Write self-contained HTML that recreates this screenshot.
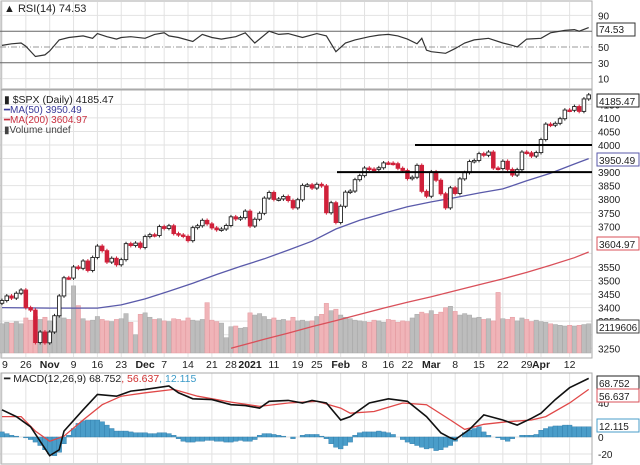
<!DOCTYPE html>
<html><head><meta charset="utf-8"><style>
body{margin:0;background:#fff;width:640px;height:465px;overflow:hidden}
svg{display:block;font-family:"Liberation Sans",sans-serif}
</style></head><body>
<svg id="chart" width="640" height="465" viewBox="0 0 640 465" xmlns="http://www.w3.org/2000/svg"></svg>
<script>
const dateLabels=["9","26","Nov","9","16","23","Dec","7","14","21","28","2021","11","19","25","Feb","8","16","22","Mar","8","15","22","29","Apr","12"];
const dateIdx=[0,5,10,15,20,25,30,34,39,44,48,52,57,62,66,71,76,81,85,90,95,100,105,110,113,119];
const boldLabels=["Nov","Dec","2021","Feb","Mar","Apr"];
const closes=[3426,3443,3435,3453,3465,3400,3391,3271,3310,3270,
3310,3370,3443,3510,3509,3550,3545,3572,3537,3585,3627,3610,3568,3582,3558,3577,3636,3629,3638,3622,
3662,3669,3666,3699,3692,3702,3673,3668,3663,3647,3695,3702,3722,3709,3694,3687,3690,3703,3735,3727,3732,3756,
3701,3726,3748,3804,3825,3799,3801,3810,3795,3768,3798,3851,3853,3841,3855,3849,3750,3787,3714,
3774,3826,3830,3872,3887,3915,3911,3910,3916,3934,3933,3931,3914,3906,3876,3881,3925,3829,3811,
3901,3870,3820,3768,3842,3821,3875,3898,3939,3943,3968,3962,3974,3915,3913,3940,3910,3889,3909,3974,3971,3959,3972,
4020,4077,4073,4080,4097,4129,4128,4142,4124,4170,4185];
const volumes=[4.0,4.2,4.1,4.3,4.0,4.8,4.5,5.0,4.6,4.9,
4.4,4.3,5.2,4.8,4.6,9.2,6.5,4.7,4.4,4.5,5.0,4.6,4.4,4.3,4.6,4.7,5.4,4.2,2.5,5.3,
5.5,4.9,4.6,4.7,4.4,4.3,4.7,4.6,4.4,4.8,4.5,4.4,4.6,6.9,4.5,4.3,4.1,2.1,3.6,3.7,3.4,3.5,
5.5,5.2,5.4,5.0,4.6,4.8,4.5,4.6,4.4,4.9,4.4,4.5,4.3,4.4,5.0,5.3,6.8,5.8,6.0,
5.2,4.9,4.7,4.5,4.4,4.3,4.2,4.5,4.4,4.2,4.6,4.5,4.2,4.4,4.3,4.8,5.3,5.6,5.4,
5.8,5.3,5.6,6.2,6.4,5.7,5.2,5.4,5.2,4.8,4.9,4.6,4.7,4.4,8.3,4.7,4.6,4.9,4.4,4.8,4.6,4.3,4.5,
4.3,4.2,4.0,3.9,3.8,3.7,3.8,3.7,3.8,3.9,4.0];
const ma50Idx=[0,10,20,25,30,35,40,45,50,55,60,65,70,75,80,85,90,95,100,105,110,115,120,123];
const ma50Val=[3400,3398,3398,3410,3432,3460,3490,3522,3552,3580,3612,3645,3690,3722,3748,3772,3790,3806,3823,3838,3868,3896,3930,3950];
const ma200Idx=[48,55,60,65,70,75,80,85,90,95,100,105,110,115,120,123];
const ma200Val=[3250,3283,3306,3330,3352,3375,3398,3420,3440,3462,3484,3506,3530,3556,3584,3605];
const rsiIdx=[0,2,4,5,7,9,10,12,14,17,19,20,22,24,25,27,30,32,34,35,37,40,42,44,46,49,51,53,56,58,60,63,66,68,70,72,74,77,79,81,83,85,87,88,89,90,93,95,97,99,102,105,107,108,110,113,115,118,120,121,123];
const rsiVal=[52,54,55,51,38,40,45,59,62,64,61,67,63,60,62,63,61,66,68,64,62,57,66,62,60,63,68,55,70,66,67,62,67,64,44,55,59,63,65,66,64,60,54,61,46,44,42,48,55,59,61,55,52,50,60,61,68,71,72,70,74.5];
const macdIdx=[0,3,6,8,10,12,13,17,20,24,27,30,35,37,40,44,48,51,54,56,60,63,65,68,71,73,77,81,85,89,92,94,95,98,101,105,108,111,113,116,119,123];
const macdVal=[32,24,12,-5,-22,-15,7,32,50,48,54,56,60,52,45,44,38,37,34,42,43,40,43,40,20,24,40,45,42,24,5,-1,-3,9,26,20,14,22,28,44,58,69];
const sigIdx=[0,4,7,10,13,17,21,25,30,36,41,48,54,60,66,71,73,78,84,89,94,97,101,106,111,114,119,123];
const sigVal=[24,24,7,-5,1,20,38,48,52,56,48,41,36,40,42,34,28,30,40,38,20,9,15,18,20,24,40,56];
const hist=[6,4,2,1,0,-1,-3,-6,-10,-15,-20,-22,-18,-8,2,10,16,19,20,20,20,18,14,10,7,7,7,6,
5,5,5,4,4,5,5,4,2,-2,-5,-6,-6,-5,-5,-4,-4,-5,-5,-6,-6,-5,-4,-5,-5,-3,2,4,4,3,2,1,0,-2,0,
2,3,3,3,1,-2,-8,-12,-14,-10,-6,2,5,6,6,6,7,6,5,3,0,-3,-6,-8,-10,-12,-14,-13,-16,-15,
-12,-10,-5,0,5,8,10,12,6,2,0,-1,-3,-5,-2,0,2,2,2,3,8,10,12,13,13,14,14,12,12,12,12];

const svg=document.getElementById('chart');
const NS='http://www.w3.org/2000/svg';
function mk(tag,attrs,parent){const e=document.createElementNS(NS,tag);for(const k in attrs)e.setAttribute(k,attrs[k]);(parent||svg).appendChild(e);return e;}
const PR=592;
const xS=i=>2+i*4.77;
const yRsi=v=>47+(50-v)*0.79;
const yP=p=>145+(4000-p)*0.271;
const yM=v=>437-v*0.85;
const VB=353;

const g=mk('g',{});


[[2,88],[90,357],[373,463]].forEach(([t,b])=>{
  dateIdx.forEach(i=>mk('line',{x1:xS(i),x2:xS(i),y1:t,y2:b,stroke:'#e2e2e2'},g));
});
[90,10].forEach(v=>mk('line',{x1:0,x2:PR,y1:yRsi(v),y2:yRsi(v),stroke:'#e2e2e2'},g));
for(let p=3250;p<=4150;p+=50)mk('line',{x1:0,x2:PR,y1:yP(p),y2:yP(p),stroke:'#e2e2e2'},g);
[-20,0,20,40].forEach(v=>mk('line',{x1:0,x2:PR,y1:yM(v),y2:yM(v),stroke:'#e2e2e2'},g));
[[1,1,88],[1,90,268],[1,373,91]].forEach(([x,y,h])=>mk('rect',{x:x,y:y,width:PR-1,height:h,fill:'none',stroke:'#aaa'}));

function txt(x,y,s,attrs,name){const t=mk('text',Object.assign({x:x,y:y,'font-size':10,fill:'#222'},attrs||{}));t.textContent=s;return t;}
mk('line',{x1:0,x2:PR,y1:yRsi(70),y2:yRsi(70),stroke:'#666'});
mk('line',{x1:0,x2:PR,y1:yRsi(30),y2:yRsi(30),stroke:'#666'});
mk('line',{x1:0,x2:PR,y1:yRsi(50),y2:yRsi(50),stroke:'#999','stroke-dasharray':'6,2,1,2'});
let d='';rsiIdx.forEach((i,k)=>{d+=(k?'L':'M')+xS(i).toFixed(1)+','+yRsi(rsiVal[k]).toFixed(1);});
const rl=mk('path',{d:d,fill:'none',stroke:'#333','stroke-width':1.2});


txt(4,12,'▲ RSI(14) 74.53',{'font-size':11},'rsi-legend');
[90,50,30,10].forEach(v=>txt(598,yRsi(v)+4,String(v),{},'rsi-tick'));
const rb=mk('rect',{x:597,y:23,width:38,height:13,fill:'#fff',stroke:'#333'});


txt(599,33,'74.53',{},'rsi-value');

const vs=v=>v*7.3;
volumes.forEach((v,i)=>{const up=i==0||closes[i]>=closes[i-1];
  const r=mk('rect',{x:xS(i)-2.2,y:VB-vs(v),width:4.4,height:vs(v),fill:up?'#bdbdbd':'#f0b4b8',stroke:up?'#a8a8a8':'#e59aa0','stroke-width':0.5});
  
  });

d='';ma50Idx.forEach((i,k)=>{d+=(k?'L':'M')+xS(i).toFixed(1)+','+yP(ma50Val[k]).toFixed(1);});
const m50=mk('path',{d:d,fill:'none',stroke:'#5a5aaa','stroke-width':1.3});


d='';ma200Idx.forEach((i,k)=>{d+=(k?'L':'M')+xS(i).toFixed(1)+','+yP(ma200Val[k]).toFixed(1);});
const m200=mk('path',{d:d,fill:'none',stroke:'#d9505a','stroke-width':1.3});



closes.forEach((c,i)=>{const o=i?closes[i-1]:c-10;const up=c>=o;const col=up?'#222':'#d0203a';
  const hi=Math.max(o,c)+7,lo=Math.min(o,c)-7;
  mk('line',{x1:xS(i),x2:xS(i),y1:yP(hi),y2:yP(lo),stroke:col});
  const top=yP(Math.max(o,c)),h=Math.max(1.5,yP(Math.min(o,c))-top);
  const r=mk('rect',{x:xS(i)-1.8,y:top,width:3.6,height:h,fill:up?'#fff':col,stroke:col,'stroke-width':0.9});
  
  });
const l1=mk('line',{x1:337,x2:PR,y1:yP(3900),y2:yP(3900),stroke:'#000','stroke-width':2});


const l2=mk('line',{x1:415,x2:PR,y1:yP(4000),y2:yP(4000),stroke:'#000','stroke-width':2});


for(let p=3250;p<=4150;p+=50){if(p==3950||p==3600||p==3300)continue;txt(598,yP(p)+4,String(p),{},'price-tick');}
txt(4,103,'▮ $SPX (Daily) 4185.47',{'font-size':10.5},'price-legend');
txt(4,113,'━MA(50) 3950.49',{fill:'#3a3a99'},'ma50-legend');
txt(4,123,'━MA(200) 3604.97',{fill:'#c83040'},'ma200-legend');
txt(4,133,'▮Volume undef',{fill:'#444'},'volume-legend');
function box(y,s,col,name){const b=mk('rect',{x:597,y:y-7,width:42,height:13,fill:'#fff',stroke:col});txt(599,y+4,s,{},name);}
box(101,'4185.47','#222','last-price');
box(160,'3950.49','#5a5aaa','ma50-value');
box(244,'3604.97','#d9505a','ma200-value');
box(327,'2119606','#444','volume-value');

dateLabels.forEach((s,k)=>txt(k==0?2:xS(dateIdx[k]),368,s,{'font-weight':boldLabels.includes(s)?'bold':'normal','font-size':10.5,'text-anchor':k==0?'start':'middle'},'date-label'));

hist.forEach((v,i)=>{const y0=yM(0),y1=yM(v);const r=mk('rect',{x:xS(i)-2.4,y:Math.min(y0,y1),width:4.8,height:Math.abs(y1-y0),fill:'#4a9dc9',stroke:'#2f7aa8','stroke-width':0.4});
  
  });
d='';sigIdx.forEach((i,k)=>{d+=(k?'L':'M')+xS(i).toFixed(1)+','+yM(sigVal[k]).toFixed(1);});
const sl=mk('path',{d:d,fill:'none',stroke:'#e04848','stroke-width':1.3});


d='';macdIdx.forEach((i,k)=>{d+=(k?'L':'M')+xS(i).toFixed(1)+','+yM(macdVal[k]).toFixed(1);});
const ml=mk('path',{d:d,fill:'none',stroke:'#111','stroke-width':1.6});


const lg=txt(4,382,'━ MACD(12,26,9) 68.752',{'font-size':10.5},'macd-legend');
const t2=mk('tspan',{fill:'#d03030'},lg);t2.textContent=', 56.637';
const t3=mk('tspan',{fill:'#3a9ac8'},lg);t3.textContent=', 12.115';
[40,20,0,-20].forEach(v=>{if(v!=20)txt(598,yM(v)+4,String(v),{},'macd-tick');});
box(383,'68.752','#222','macd-value');
box(396,'56.637','#d9505a','signal-value');
box(426,'12.115','#4a9dc9','histogram-value');
</script>
</body></html>
